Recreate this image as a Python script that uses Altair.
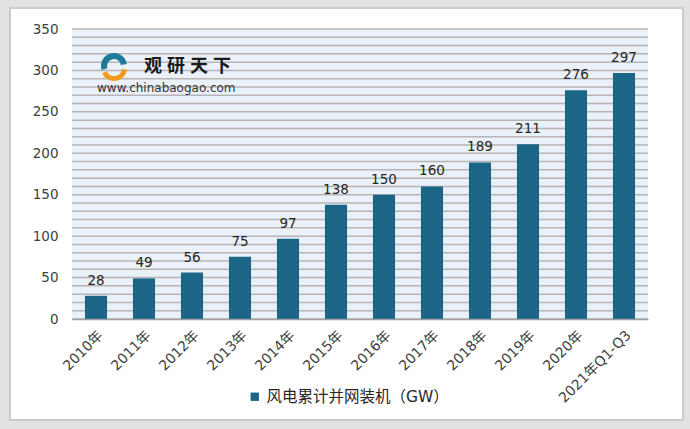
import altair as alt
import pandas as pd

categories = ["2010年", "2011年", "2012年", "2013年", "2014年", "2015年",
              "2016年", "2017年", "2018年", "2019年", "2020年", "2021年Q1-Q3"]
values = [28, 49, 56, 75, 97, 138, 150, 160, 189, 211, 276, 297]
series_name = "风电累计并网装机（GW）"
y_tick_values = [0, 50, 100, 150, 200, 250, 300, 350]
grid_values = [0, 10, 20, 30, 40, 50, 60, 70, 80, 90, 100, 110, 120, 130, 140, 150,
               160, 170, 180, 190, 200, 210, 220, 230, 240, 250, 260, 270, 280, 290,
               300, 310, 320, 330, 340, 350]
logo_chars = ["观", "研", "天", "下"]

FONT = "DejaVu Sans, Noto Sans CJK SC"
BAR = "#1b6587"
W, H = 576, 290

df = pd.DataFrame({"cat": categories, "val": values, "series": [series_name] * len(values)})
grid_df = pd.DataFrame({"g": grid_values})
one = alt.Data(values=[{"a": 1}])

x_enc = alt.X("cat:N", sort=categories,
              scale=alt.Scale(paddingInner=0.54, paddingOuter=0.27),
              axis=alt.Axis(title=None, labelAngle=-45, labelFontSize=14, labelColor="#404040",
                            labelFont=FONT, ticks=False, domainColor="#a0a0a0", domainWidth=1.5,
                            labelPadding=9, grid=False, zindex=1))
y_scale = alt.Scale(domain=[0, 350], nice=False)

frame = alt.Chart(one).mark_rect(fill="white", stroke="#cccccc", strokeWidth=2).encode(
    x=alt.value(-62), x2=alt.value(611), y=alt.value(-21), y2=alt.value(391))

plot_bg = alt.Chart(one).mark_rect(fill="#eaf1f8").encode(
    x=alt.value(0), x2=alt.value(W), y=alt.value(0), y2=alt.value(H))

grid = alt.Chart(grid_df).mark_rule(color="#b5b5b5", strokeWidth=1.5).encode(
    y=alt.Y("g:Q", scale=y_scale,
            axis=alt.Axis(title=None, values=y_tick_values, grid=False, domain=False, ticks=False,
                          labelFontSize=13.5, labelColor="#404040", labelFont=FONT,
                          labelPadding=14, zindex=1)),
    x=alt.value(0), x2=alt.value(W))

bars = alt.Chart(df).mark_bar(color=BAR).encode(
    x=x_enc,
    y=alt.Y("val:Q", scale=y_scale),
    color=alt.Color("series:N", scale=alt.Scale(range=[BAR]),
                    legend=alt.Legend(title=None, orient="none", legendX=169, legendY=354,
                                      symbolType="square", symbolSize=70, labelFontSize=15.5,
                                      labelFont=FONT, labelColor="#262626", labelLimit=400,
                                      fillColor="white", padding=6, symbolStrokeWidth=0)))

labels = alt.Chart(df).mark_text(dy=-15, fontSize=13.5, font=FONT, color="#262626").encode(
    x=alt.X("cat:N", sort=categories), y=alt.Y("val:Q", scale=y_scale), text="val:Q")

arc_top = alt.Chart(one).mark_arc(color="#1d7a98").encode(
    x=alt.value(42), y=alt.value(37), theta=alt.value(4.4), theta2=alt.value(7.7),
    radius=alt.value(13), radius2=alt.value(7))
arc_bottom = alt.Chart(one).mark_arc(color="#f39a1e").encode(
    x=alt.value(42), y=alt.value(39), theta=alt.value(1.7), theta2=alt.value(4.3),
    radius=alt.value(13), radius2=alt.value(8))

logo_layers = []
for i, ch in enumerate(logo_chars):
    logo_layers.append(
        alt.Chart(one).mark_text(text=ch, fontSize=18, fontWeight="bold",
                                 font="Noto Sans CJK SC", color="#1a1a1a", align="center",
                                 baseline="alphabetic").encode(x=alt.value(81 + 23 * i), y=alt.value(43)))
logo_url = alt.Chart(one).mark_text(text="www.chinabaogao.com", fontSize=12, font="DejaVu Sans",
                                    color="#333333", align="left",
                                    baseline="alphabetic").encode(x=alt.value(25), y=alt.value(63))

chart = alt.layer(frame, plot_bg, grid, bars, labels, arc_top, arc_bottom, *logo_layers, logo_url).properties(
    width=W, height=H,
    autosize=alt.AutoSizeParams(type="none"),
    padding={"left": 72, "top": 29, "right": 42, "bottom": 110},
    background="#e2e2e2",
).configure_view(stroke=None)

chart.save("out.html", embed_options={"renderer": "svg", "actions": False})
